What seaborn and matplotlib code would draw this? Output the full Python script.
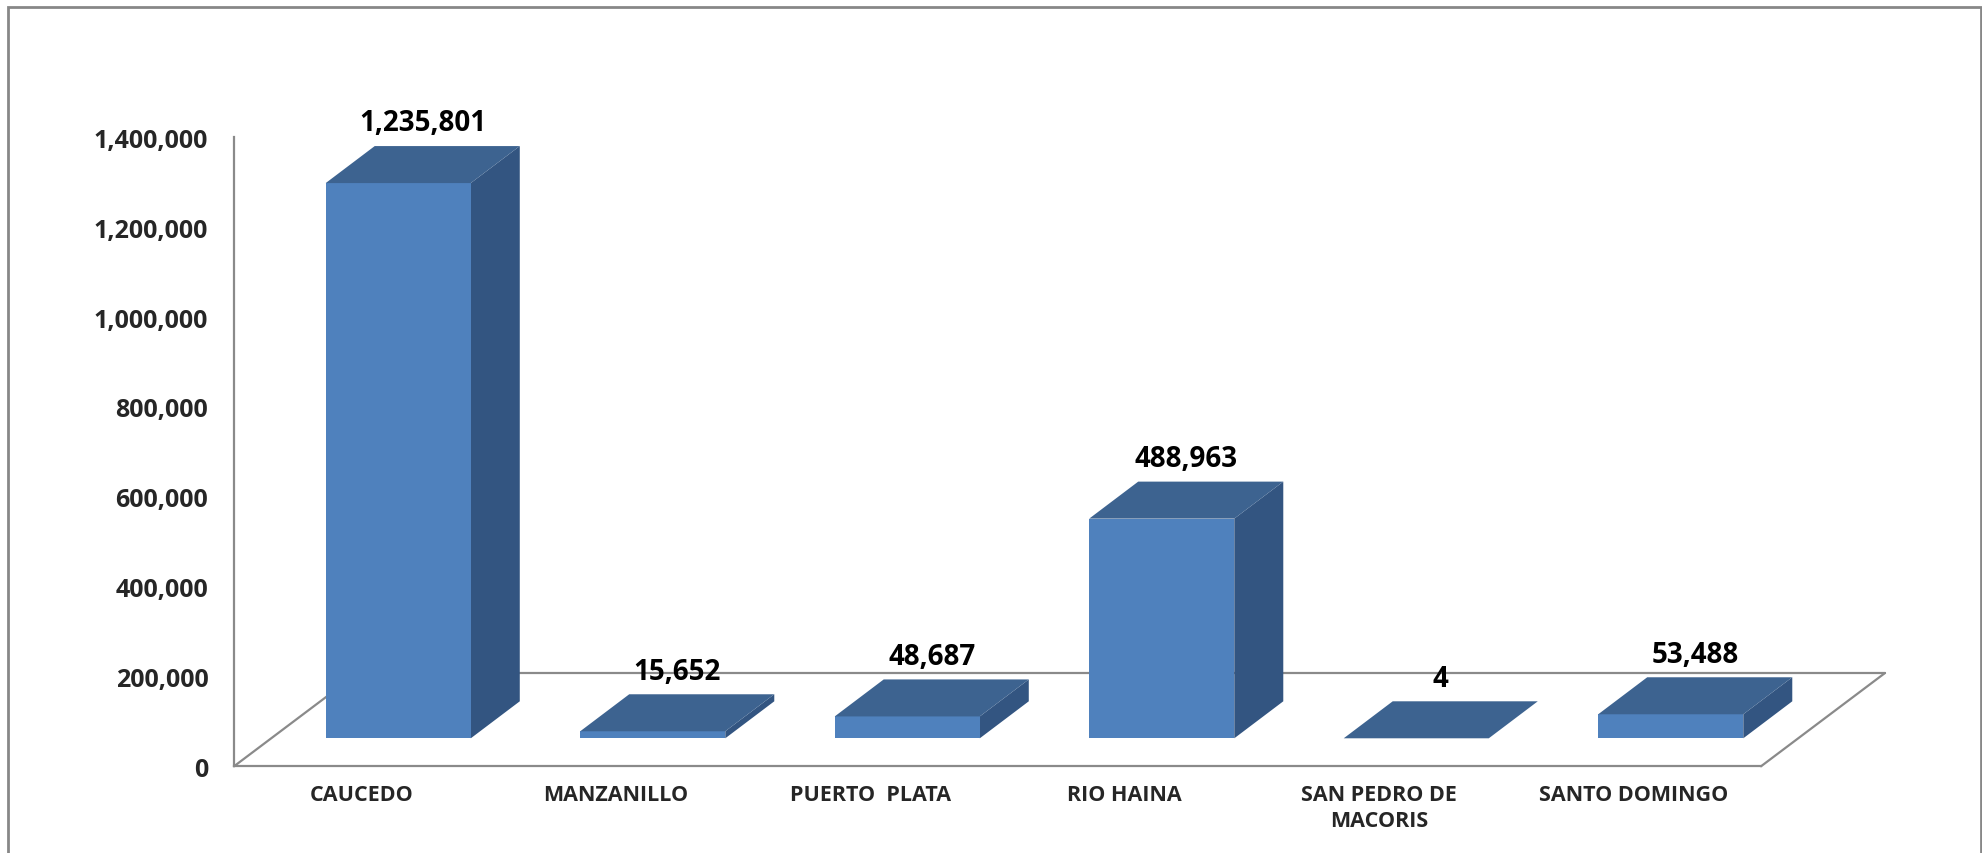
import matplotlib
matplotlib.use('Agg')
import pandas as pd
import matplotlib.pyplot as plt
from matplotlib.patches import Polygon, Rectangle
import seaborn as sns

ports = ['CAUCEDO', 'MANZANILLO', 'PUERTO  PLATA', 'RIO HAINA', 'SAN PEDRO DE\nMACORIS', 'SANTO DOMINGO']
values = [1235801, 15652, 48687, 488963, 4, 53488]
y_ticks = [0, 200000, 400000, 600000, 800000, 1000000, 1200000, 1400000]

FRONT = '#4F81BD'
TOP = '#3D6390'
SIDE = '#335581'
LINE = '#8a8a8a'

W, H = 1983, 854
sns.set_style('white')

fig = plt.figure(figsize=(W / 100, H / 100), dpi=100)

# plot area in pixels (front plane of the floor)
left, base, width, height = 234, 767.3, 1527, 629
ax = fig.add_axes([left / W, (H - base) / H, width / W, height / H])
# bars sit a bit deeper into the floor
axb = fig.add_axes([(left + 37) / W, (H - base + 28) / H, width / W, height / H])

for a in (ax, axb):
    a.set_xlim(-0.5, len(ports) - 0.5)
    a.set_ylim(0, 1400000)

# depth of the bars and of the floor in data units
bar_w = 0.57
bdx = 49 / width * len(ports)
bdy = 37 / height * 1400000
fdx = 124 / width * len(ports)
fdy = 93.3 / height * 1400000

# floor outline
ax.plot([len(ports) - 0.5, len(ports) - 0.5 + fdx], [0, fdy], color=LINE, lw=1.6, clip_on=False)
ax.plot([-0.5 + fdx, len(ports) - 0.5 + fdx], [fdy, fdy], color=LINE, lw=1.6, clip_on=False)
ax.plot([-0.5, -0.5 + fdx], [0, fdy], color=LINE, lw=1.6, clip_on=False)
for s in ['top', 'right']:
    ax.spines[s].set_visible(False)
for s in ['left', 'bottom']:
    ax.spines[s].set_color(LINE)
    ax.spines[s].set_linewidth(1.6)

df = pd.DataFrame({'port': ports, 'value': values})
sns.barplot(data=df, x='port', y='value', color=FRONT, saturation=1, width=bar_w, ax=axb, zorder=2,
            linewidth=0, edgecolor=FRONT)
axb.set_xlim(-0.5, len(ports) - 0.5)
axb.set_ylim(0, 1400000)
axb.axis('off')
axb.patch.set_alpha(0)

for i, v in enumerate(values):
    x0, x1 = i - bar_w / 2, i + bar_w / 2
    top = [(x0, v), (x1, v), (x1 + bdx, v + bdy), (x0 + bdx, v + bdy)]
    side = [(x1, 0), (x1, v), (x1 + bdx, v + bdy), (x1 + bdx, bdy)]
    axb.add_patch(Polygon(side, closed=True, facecolor=SIDE, edgecolor='none', zorder=1, clip_on=False))
    axb.add_patch(Polygon(top, closed=True, facecolor=TOP, edgecolor='none', zorder=3, clip_on=False))
    axb.annotate(f'{v:,}', xy=(i + bdx / 2, v + bdy / 2), xytext=(0, 30), textcoords='offset points',
                 ha='center', va='center', fontsize=20, fontweight='bold', family='Open Sans', color='black')

ax.set_yticks(y_ticks)
ax.set_yticklabels([f'{t:,}' for t in y_ticks], fontsize=18, fontweight='bold', family='Open Sans')
ax.set_xticks(range(len(ports)))
ax.set_xticklabels(ports, fontsize=15.5, fontweight='bold', family='Open Sans', linespacing=1.3)
ax.tick_params(axis='y', length=0, pad=18.5)
ax.tick_params(axis='x', length=0, pad=13)
ax.patch.set_alpha(0)

# outer frame
fig.add_artist(Rectangle((8 / W, -0.1), (1981 - 8) / W, (H - 7.5) / H + 0.1, transform=fig.transFigure,
                         fill=False, edgecolor='#878787', lw=2))

fig.savefig('out.png', dpi=100)
